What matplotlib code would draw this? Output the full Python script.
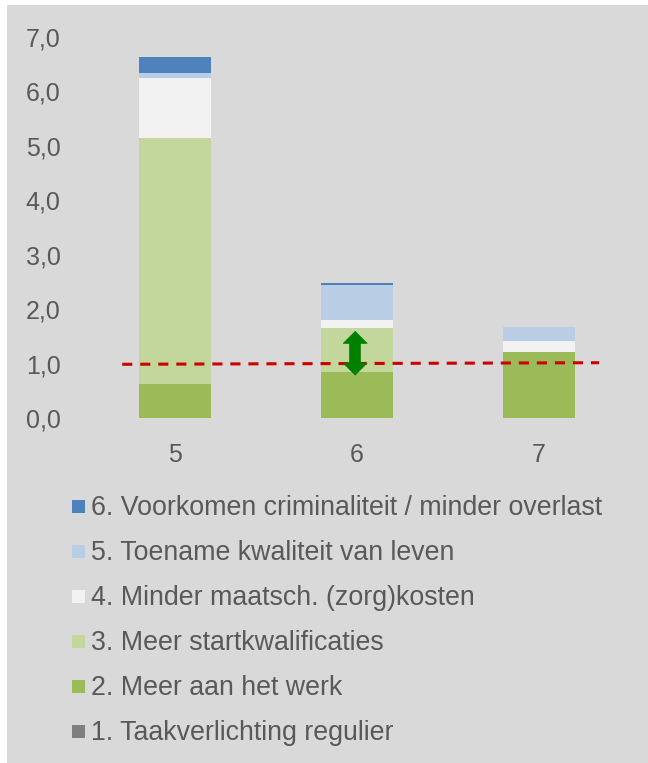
import matplotlib
matplotlib.use("Agg")
import matplotlib.pyplot as plt
from matplotlib.patches import Rectangle, FancyArrowPatch

# ---------------- data ----------------
categories = ["5", "6", "7"]
positions = [5, 6, 7]

series_labels = [
    "1. Taakverlichting regulier",
    "2. Meer aan het werk",
    "3. Meer startkwalificaties",
    "4. Minder maatsch. (zorg)kosten",
    "5. Toename kwaliteit van leven",
    "6. Voorkomen criminaliteit / minder overlast",
]
s1_taakverlichting = [0.0, 0.0, 0.0]
s2_meer_werk = [0.63, 0.85, 1.21]
s3_startkwalificaties = [4.52, 0.80, 0.0]
s4_zorgkosten = [1.10, 0.15, 0.21]
s5_kwaliteit_leven = [0.09, 0.65, 0.26]
s6_criminaliteit = [0.29, 0.03, 0.0]
series_values = [s1_taakverlichting, s2_meer_werk, s3_startkwalificaties,
                 s4_zorgkosten, s5_kwaliteit_leven, s6_criminaliteit]
series_colors = ["#7F7F7F", "#9BBB59", "#C3D69B", "#F2F2F2", "#B9CDE5", "#4F81BD"]

ref_line_x = [4.71, 7.33]
ref_line_y = [0.987, 1.016]
arrow_x = 5.99
arrow_y = [0.78, 1.60]

yticks = [0, 1, 2, 3, 4, 5, 6, 7]
ytick_labels = ["0,0", "1,0", "2,0", "3,0", "4,0", "5,0", "6,0", "7,0"]

# ---------------- figure ----------------
W, H = 648, 763
DPI = 100
plt.rcParams["font.family"] = ["Liberation Sans", "DejaVu Sans"]
text_color = "#595959"
bg = "#D9D9D9"

fig = plt.figure(figsize=(W / DPI, H / DPI), dpi=DPI, facecolor="white")
fig.add_artist(Rectangle((7 / W, 0), 1, (H - 5) / H, transform=fig.transFigure,
                         facecolor=bg, edgecolor="none", zorder=-10))

ax = fig.add_axes([84 / W, (H - 418) / H, (630 - 84) / W, (418 - 37) / H])
ax.set_facecolor(bg)
ax.patch.set_alpha(0)
ax.set_xlim(4.5, 7.5)
ax.set_ylim(0, 7)

bottoms = [0.0] * len(positions)
for vals, col in zip(series_values, series_colors):
    ax.bar(positions, vals, width=0.4, bottom=bottoms, color=col,
           edgecolor="none", zorder=2)
    bottoms = [b + v for b, v in zip(bottoms, vals)]

ax.plot(ref_line_x, ref_line_y, color="#CC0000", lw=2.2,
        dashes=(3.3, 2.6), zorder=4, solid_capstyle="butt")

# double arrow: filled heads + thick shaft between head bases
head_len_px = 12.0
px_per_unit = ax.get_position().height * H / (7 - 0)
head_len = head_len_px / px_per_unit
ax.plot([arrow_x, arrow_x], [arrow_y[0] + head_len * 0.9, arrow_y[1] - head_len * 0.9],
        color="#008000", lw=8.4, solid_capstyle="butt", zorder=5)
arr = FancyArrowPatch((arrow_x, arrow_y[0]), (arrow_x, arrow_y[1]),
                      arrowstyle="<|-|>,head_width=0.43,head_length=0.43",
                      mutation_scale=20, color="#008000", lw=0.5,
                      shrinkA=0, shrinkB=0, zorder=6)
ax.add_patch(arr)

ax.set_xticks(positions)
ax.set_xticklabels(categories)
ax.set_yticks(yticks)
ax.set_yticklabels(ytick_labels)
ax.tick_params(axis="both", length=0, labelsize=18, labelcolor=text_color)
ax.tick_params(axis="y", pad=17)
ax.tick_params(axis="x", pad=18)
for s in ax.spines.values():
    s.set_visible(False)

# legend (manual, top entry = last series)
row0_baseline = 515
row_step = 45
for i, idx in enumerate(reversed(range(len(series_labels)))):
    base = row0_baseline + i * row_step
    fig.add_artist(Rectangle((72 / W, (H - (base - 2)) / H), 13 / W, 13 / H,
                             transform=fig.transFigure,
                             facecolor=series_colors[idx], edgecolor="none"))
    fig.text(91.5 / W, (H - base) / H, series_labels[idx], fontsize=19.3,
             color=text_color, ha="left", va="baseline")

fig.savefig("out.png", dpi=DPI, facecolor=fig.get_facecolor())
